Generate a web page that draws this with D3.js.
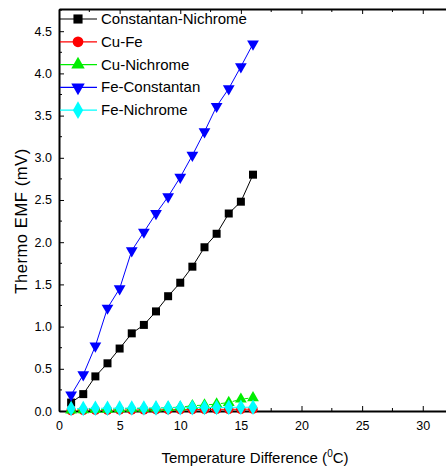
<!DOCTYPE html>
<html>
<head>
<meta charset="utf-8">
<script src="https://cdn.jsdelivr.net/npm/d3@7"></script>
<style>
  html, body { margin: 0; padding: 0; background: #fff; }
  svg { display: block; font-family: "Liberation Sans", Arial, sans-serif; }
</style>
</head>
<body>
<svg id="chart" width="446" height="470"></svg>
<script>
// Temperature difference (°C) for every reading
const tempDiff = [1, 2, 3, 4, 5, 6, 7, 8, 9, 10, 11, 12, 13, 14, 15, 16];

// Thermo EMF (mV) for each thermocouple pair
const constantanNichrome = [0.10, 0.20, 0.41, 0.565, 0.74, 0.92, 1.02, 1.18, 1.36, 1.52, 1.71, 1.94, 2.10, 2.34, 2.48, 2.80];
const cuFe = [0.005, 0.008, 0.010, 0.010, 0.012, 0.012, 0.014, 0.015, 0.015, 0.016, 0.017, 0.018, 0.019, 0.020, 0.020, 0.022];
const cuNichrome = [0.010, 0.015, 0.020, 0.020, 0.025, 0.030, 0.030, 0.035, 0.040, 0.045, 0.063, 0.070, 0.083, 0.100, 0.140, 0.157];
const feConstantan = [0.19, 0.43, 0.77, 1.22, 1.45, 1.90, 2.12, 2.34, 2.54, 2.77, 3.03, 3.31, 3.61, 3.82, 4.08, 4.35];
const feNichrome = [0.030, 0.030, 0.032, 0.033, 0.034, 0.035, 0.036, 0.037, 0.038, 0.039, 0.040, 0.041, 0.042, 0.043, 0.044, 0.045];

const seriesNames = ["Constantan-Nichrome", "Cu-Fe", "Cu-Nichrome", "Fe-Constantan", "Fe-Nichrome"];

// Axis tick labels
const xTickValues = [0, 5, 10, 15, 20, 25, 30];
const yTickValues = [0.0, 0.5, 1.0, 1.5, 2.0, 2.5, 3.0, 3.5, 4.0, 4.5];

const series = [
  { name: seriesNames[0], values: constantanNichrome, color: "#000000", symbol: d3.symbolSquare, size: 64, angle: 0, dash: null },
  { name: seriesNames[1], values: cuFe, color: "#ff0000", symbol: d3.symbolCircle, size: 70, angle: 0, dash: "4,2" },
  { name: seriesNames[2], values: cuNichrome, color: "#00ee00", symbol: d3.symbolTriangle, size: 60, angle: 0, dash: "4,2" },
  { name: seriesNames[3], values: feConstantan, color: "#0000ff", symbol: d3.symbolTriangle, size: 60, angle: 180, dash: null },
  { name: seriesNames[4], values: feNichrome, color: "#00ffff", symbol: d3.symbolDiamond, size: 70, angle: 0, dash: "4,2" }
];

const svg = d3.select("#chart");
const plot = { left: 59, top: 9, bottom: 411, right: 447 };

const x = d3.scaleLinear().domain([0, 32]).range([plot.left, plot.right]);
const y = d3.scaleLinear().domain([0, 4.763]).range([plot.bottom, plot.top]);

// Minor ticks (inward) on all framed sides
const xMinor = d3.range(2.5, 32, 5);
const yMinor = d3.range(0.25, 4.76, 0.5);

const axisG = svg.append("g");

// Bottom axis
const bottomAxis = d3.axisBottom(x).tickValues(xTickValues).tickFormat(d3.format("d"))
  .tickSizeInner(-5).tickSizeOuter(0).tickPadding(10);
const gB = axisG.append("g").attr("transform", `translate(0,${plot.bottom})`).call(bottomAxis);
gB.selectAll(".tick line").attr("stroke", "#000");
gB.append("g").selectAll("line").data(xMinor).join("line")
  .attr("x1", d => x(d)).attr("x2", d => x(d)).attr("y1", 0).attr("y2", -3).attr("stroke", "#000");

// Top axis (frame, no labels)
const topAxis = d3.axisTop(x).tickValues(xTickValues).tickFormat("").tickSizeInner(-5).tickSizeOuter(0);
const gT = axisG.append("g").attr("transform", `translate(0,${plot.top})`).call(topAxis);
gT.append("g").selectAll("line").data(xMinor).join("line")
  .attr("x1", d => x(d)).attr("x2", d => x(d)).attr("y1", 0).attr("y2", 3).attr("stroke", "#000");

// Left axis
const leftAxis = d3.axisLeft(y).tickValues(yTickValues).tickFormat(d3.format(".1f"))
  .tickSizeInner(-5).tickSizeOuter(0).tickPadding(7);
const gL = axisG.append("g").attr("transform", `translate(${plot.left},0)`).call(leftAxis);
gL.append("g").selectAll("line").data(yMinor).join("line")
  .attr("x1", 0).attr("x2", 3).attr("y1", d => y(d)).attr("y2", d => y(d)).attr("stroke", "#000");

[gB, gT, gL].forEach(g => {
  g.select(".domain").attr("stroke", "#000").attr("stroke-width", 2);
  g.selectAll("text").attr("font-size", 12.5).attr("fill", "#000")
    .attr("font-family", "'Liberation Sans', Arial, sans-serif");
});

// Axis titles
svg.append("text")
  .attr("transform", `translate(27,221) rotate(-90)`)
  .attr("text-anchor", "middle")
  .attr("font-size", 16.5)
  .attr("letter-spacing", 0.6)
  .text("Thermo EMF (mV)");

const xt = svg.append("text")
  .attr("x", 255).attr("y", 463)
  .attr("text-anchor", "middle")
  .attr("font-size", 15);
xt.append("tspan").text("Temperature Difference (");
xt.append("tspan").attr("font-size", 10).attr("dy", -6).text("0");
xt.append("tspan").attr("dy", 6).text("C)");

// Series lines and markers
const line = d3.line().x((d, i) => x(tempDiff[i])).y(d => y(d));
const dataG = svg.append("g");

series.forEach(s => {
  dataG.append("path")
    .attr("d", line(s.values))
    .attr("fill", "none")
    .attr("stroke", s.color)
    .attr("stroke-width", 1)
    .attr("stroke-dasharray", s.dash);
  const sym = d3.symbol().type(s.symbol).size(s.size);
  dataG.append("g").selectAll("path").data(s.values).join("path")
    .attr("d", sym)
    .attr("transform", (d, i) => `translate(${x(tempDiff[i])},${y(d)}) rotate(${s.angle})`)
    .attr("fill", s.color);
});

// Legend
const legend = svg.append("g");
series.forEach((s, i) => {
  const ly = 19 + i * 22.8;
  legend.append("line")
    .attr("x1", 60).attr("x2", 97).attr("y1", ly).attr("y2", ly)
    .attr("stroke", s.color).attr("stroke-width", 1.2);
  legend.append("path")
    .attr("d", d3.symbol().type(s.symbol).size(s.size * 1.3))
    .attr("transform", `translate(78,${ly}) rotate(${s.angle})`)
    .attr("fill", s.color);
  legend.append("text")
    .attr("x", 101).attr("y", ly + 5)
    .attr("font-size", 15)
    .text(s.name);
});
</script>
</body>
</html>
